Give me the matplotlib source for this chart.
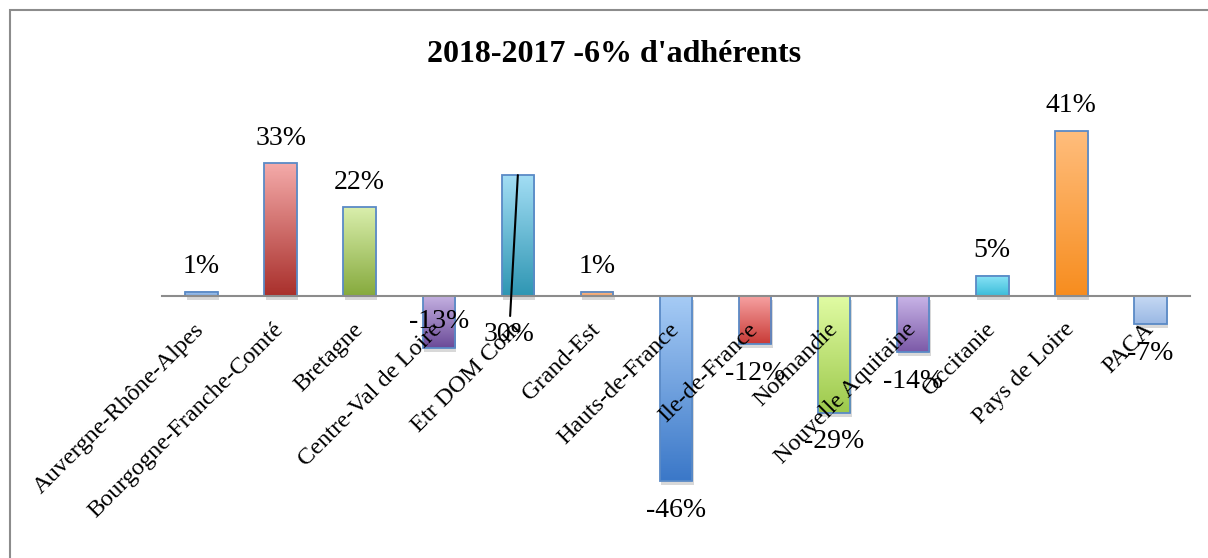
import numpy as np
import matplotlib
matplotlib.use('Agg')
import matplotlib.pyplot as plt
from matplotlib.colors import LinearSegmentedColormap
from matplotlib.patches import Rectangle
import matplotlib.patheffects as pe

# Data
regions = ['Auvergne-Rhône-Alpes', 'Bourgogne-Franche-Comté', 'Bretagne',
           'Centre-Val de Loire', 'Etr DOM Com', 'Grand-Est', 'Hauts-de-France',
           'Ile-de-France', 'Normandie', 'Nouvelle Aquitaine', 'Occitanie',
           'Pays de Loire', 'PACA']
evolution = [1, 33, 22, -13, 30, 1, -46, -12, -29, -14, 5, 41, -7]

# gradient colours per bar (top, bottom)
top_colors = ['#a9c8f0', '#f4aaa9', '#d9eeac', '#c5b2e2', '#a2ddf4', '#fbc08e', '#a6cbf5',
              '#f7a3a3', '#e0fba3', '#c9b5e8', '#8ae4f7', '#ffbd7c', '#c7daf4']
bottom_colors = ['#7ea9de', '#a9302c', '#86aa3d', '#6b4a98', '#2f96b3', '#f2a06a', '#3b78c8',
                 '#c93b37', '#9dc94c', '#7c5aa8', '#3cbcd9', '#f78d1f', '#9ab8e4']

title = "2018-2017 -6% d'adhérents"

plt.rcParams['font.family'] = ['Liberation Serif', 'DejaVu Serif']

fig = plt.figure(figsize=(12.08, 5.58), dpi=100)
ax = fig.add_axes([0.1341, 0.1093, 0.851, 0.685])

x = np.arange(len(regions))
width = 0.41

# soft shadows
ax.bar(x, evolution, width, color='none', zorder=1,
       path_effects=[pe.SimplePatchShadow(offset=(1, -3), shadow_rgbFace='#808080', alpha=0.3)])

# gradient fill for each bar
grad = np.linspace(0, 1, 100).reshape(-1, 1)
for i, v in enumerate(evolution):
    cmap = LinearSegmentedColormap.from_list('g%d' % i, [bottom_colors[i], top_colors[i]])
    ax.imshow(grad, cmap=cmap, origin='lower', aspect='auto', zorder=2,
              extent=[x[i] - width / 2, x[i] + width / 2, min(0, v), max(0, v)])

# bar outlines
ax.bar(x, evolution, width, facecolor='none', edgecolor='#5a8ac6', linewidth=1.3, zorder=3)

ax.set_xlim(-0.5, len(regions) - 0.5)
ax.set_ylim(-50, 45)

# data labels
for i, v in enumerate(evolution):
    lab = '%d%%' % v
    if regions[i] == 'Etr DOM Com':
        ax.annotate(lab, xy=(x[i], v), xytext=(x[i] - 0.11, -9.5), ha='center', va='center',
                    fontsize=20, zorder=7,
                    arrowprops=dict(arrowstyle='-', color='black', lw=1.5, shrinkA=2, shrinkB=0))
    elif regions[i] == 'Centre-Val de Loire':
        ax.text(x[i], -6.5, lab, ha='center', va='center', fontsize=20, zorder=7)
    elif v >= 0:
        ax.text(x[i], v + 6.2, lab, ha='center', va='center', fontsize=20, zorder=7)
    else:
        ax.text(x[i], v - 7.3, lab, ha='center', va='center', fontsize=20, zorder=7)

# axis at zero
for s in ['top', 'right', 'left']:
    ax.spines[s].set_visible(False)
ax.spines['bottom'].set_position(('data', 0))
ax.spines['bottom'].set_color('#8c8c8c')
ax.spines['bottom'].set_linewidth(1.5)
ax.spines['bottom'].set_zorder(4)
ax.set_yticks([])
ax.set_xticks(x)
ax.set_xticklabels(regions, rotation=45, ha='right', va='center', rotation_mode='anchor', fontsize=17.5)
ax.tick_params(axis='x', length=0, pad=22)
ax.xaxis.set_zorder(6)
ax.patch.set_alpha(0)

fig.text(614 / 1208, 1 - 55 / 558, title, ha='center', va='center', fontsize=23, fontweight='bold')

# chart border
fig.patches.append(Rectangle((10 / 1208, -0.1), 1.2, 1.1 - 10 / 558, transform=fig.transFigure,
                             fill=False, edgecolor='#8c8c8c', linewidth=1.5, zorder=0))

plt.savefig('out.png', dpi=100)
